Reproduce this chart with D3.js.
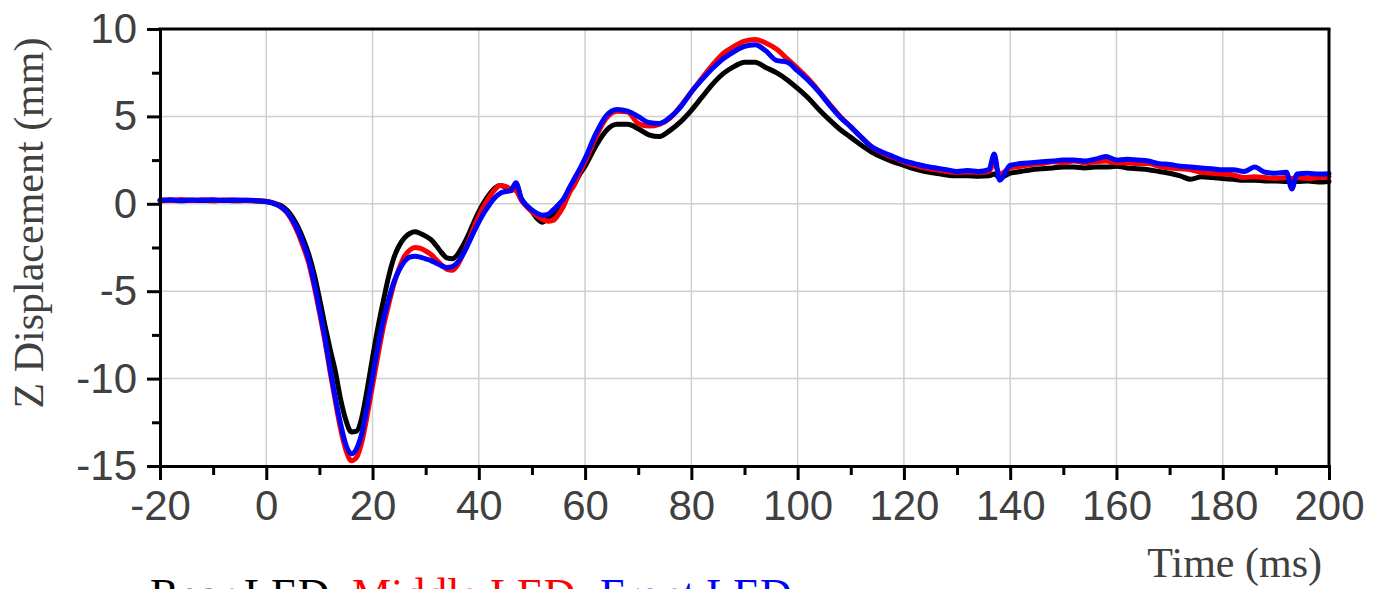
<!DOCTYPE html>
<html>
<head>
<meta charset="utf-8">
<script src="https://cdn.jsdelivr.net/npm/d3@7"></script>
<style>
  html, body { margin: 0; padding: 0; background: #fff; }
  svg { display: block; }
</style>
</head>
<body>
<svg id="chart" width="1388" height="589"></svg>
<script>
// ---- Data ----
const timeMs = [
  -20,-18,-16,-14,-12,-10,-8,-6,-4,-2,0,
  1,2,3,4,5,6,7,8,9,10,11,12,13,14,15,16,17,18,19,20,
  21,22,23,24,25,26,27,28,29,30,31,32,33,34,35,36,37,38,39,40,
  41,42,43,44,45,46,47,48,49,50,51,52,53,54,55,56,57,58,59,60,
  62,64,66,68,70,72,74,76,78,80,
  82,84,86,88,90,92,94,96,98,100,
  102,104,106,108,110,112,114,116,118,120,
  122,124,126,128,130,132,134,136,
  137,138,
  140,142,144,146,148,150,152,154,156,158,
  160,162,164,166,168,170,172,174,176,178,
  180,182,184,186,188,190,192,
  193,
  194,196,198,200
];

const rearLED = [
  0.18,0.2,0.17,0.2,0.19,0.18,0.2,0.17,0.19,0.16,0.12,
  0.07,-0.02,-0.15,-0.4,-0.8,-1.35,-2.05,-2.9,-4.0,-5.4,-6.9,-8.3,-9.6,-11.2,-12.4,-13.05,-13.0,-12.2,-10.6,-8.8,
  -7.1,-5.6,-4.2,-3.1,-2.4,-1.95,-1.7,-1.6,-1.7,-1.85,-2.05,-2.4,-2.8,-3.1,-3.15,-2.9,-2.4,-1.8,-1.1,-0.45,
  0.1,0.55,0.9,1.05,0.95,0.75,1.1,0.3,-0.1,-0.45,-0.85,-1.05,-0.8,-0.6,-0.2,0.3,0.75,1.15,1.7,2.15,
  3.3,4.2,4.55,4.55,4.3,3.95,3.85,4.2,4.7,5.35,
  6.1,6.85,7.45,7.85,8.1,8.1,7.8,7.5,7.1,6.6,
  6.05,5.4,4.8,4.25,3.8,3.35,2.95,2.65,2.4,2.2,
  2.0,1.85,1.75,1.65,1.6,1.6,1.58,1.6,
  1.7,1.5,
  1.75,1.85,1.95,2.0,2.05,2.1,2.1,2.05,2.1,2.1,
  2.15,2.05,2.0,1.95,1.85,1.75,1.6,1.4,1.55,1.5,
  1.45,1.4,1.35,1.35,1.3,1.3,1.28,
  1.3,
  1.27,1.3,1.25,1.28
];

const middleLED = [
  0.22,0.2,0.24,0.19,0.23,0.2,0.22,0.21,0.2,0.18,0.14,
  0.08,-0.04,-0.24,-0.55,-1.05,-1.7,-2.5,-3.4,-4.7,-6.2,-7.8,-9.6,-11.3,-12.9,-14.1,-14.7,-14.5,-13.6,-12.1,-10.4,
  -8.7,-7.1,-5.8,-4.6,-3.7,-3.0,-2.65,-2.5,-2.55,-2.7,-2.9,-3.2,-3.5,-3.75,-3.8,-3.5,-2.9,-2.2,-1.4,-0.7,
  -0.1,0.4,0.8,1.05,1.0,0.85,0.75,0.2,-0.15,-0.45,-0.7,-0.9,-1.0,-0.95,-0.6,-0.1,0.6,1.1,1.8,2.4,
  3.8,4.9,5.3,5.25,4.6,4.45,4.55,4.9,5.6,6.4,
  7.2,7.95,8.6,9.0,9.3,9.4,9.2,8.85,8.3,7.75,
  7.15,6.45,5.7,5.0,4.4,3.8,3.25,2.9,2.65,2.4,
  2.2,2.05,1.95,1.85,1.8,1.82,1.8,1.85,
  2.35,1.7,
  2.05,2.15,2.25,2.3,2.4,2.35,2.45,2.35,2.4,2.45,
  2.35,2.35,2.3,2.3,2.15,2.05,2.0,1.95,1.8,1.75,
  1.7,1.65,1.5,1.55,1.5,1.45,1.5,
  1.45,
  1.5,1.45,1.5,1.55
];

const frontLED = [
  0.2,0.23,0.19,0.22,0.2,0.23,0.19,0.22,0.2,0.19,0.13,
  0.06,-0.05,-0.22,-0.5,-0.95,-1.55,-2.3,-3.2,-4.5,-6.0,-7.6,-9.4,-11.1,-12.6,-13.8,-14.3,-14.0,-13.1,-11.6,-9.9,
  -8.2,-6.7,-5.5,-4.5,-3.8,-3.3,-3.05,-3.0,-3.05,-3.15,-3.25,-3.4,-3.55,-3.65,-3.6,-3.35,-2.9,-2.3,-1.65,-1.05,
  -0.5,-0.05,0.35,0.6,0.7,0.75,1.2,0.3,-0.1,-0.35,-0.55,-0.65,-0.6,-0.35,-0.05,0.3,0.9,1.45,2.0,2.6,
  4.0,5.05,5.4,5.3,5.0,4.65,4.6,4.95,5.55,6.4,
  7.1,7.75,8.3,8.7,9.0,9.1,8.75,8.2,8.1,7.6,
  7.05,6.4,5.65,4.95,4.4,3.8,3.25,2.95,2.7,2.45,
  2.3,2.15,2.05,1.95,1.85,1.9,1.85,1.95,
  2.85,1.35,
  2.2,2.3,2.35,2.4,2.45,2.5,2.5,2.45,2.55,2.7,
  2.5,2.55,2.5,2.45,2.3,2.25,2.15,2.1,2.05,2.0,
  1.95,1.95,1.85,2.1,1.8,1.75,1.8,
  0.85,
  1.7,1.75,1.7,1.72
];

const xTicks = [-20,0,20,40,60,80,100,120,140,160,180,200];
const xMinorTicks = [-10,10,30,50,70,90,110,130,150,170,190];
const yTicks = [-15,-10,-5,0,5,10];
const yMinorTicks = [-12.5,-7.5,-2.5,2.5,7.5];

const seriesNames = ["Rear LED", "Middle LED", "Front LED"];
const seriesColors = ["#000000", "#ff0000", "#0000ff"];
const seriesValues = [rearLED, middleLED, frontLED];

// ---- Layout ----
const svg = d3.select("#chart");
const pLeft = 160, pRight = 1329, pTop = 29, pBottom = 466;

const x = d3.scaleLinear().domain([-20, 200]).range([pLeft, pRight]);
const y = d3.scaleLinear().domain([-15, 10]).range([pBottom, pTop]);

const tickFont = "'Liberation Sans', Arial, sans-serif";
const titleFont = "'Liberation Serif', 'Times New Roman', serif";
const textColor = "#404040";

// Grid
const grid = svg.append("g");
grid.selectAll("line.vx").data(xTicks.filter(d => d > -20 && d < 200)).join("line")
  .attr("x1", d => x(d)).attr("x2", d => x(d))
  .attr("y1", pTop).attr("y2", pBottom)
  .attr("stroke", "#cfcfcf").attr("stroke-width", 1.5);
grid.selectAll("line.hy").data(yTicks.filter(d => d > -15 && d < 10)).join("line")
  .attr("x1", pLeft).attr("x2", pRight)
  .attr("y1", d => y(d)).attr("y2", d => y(d))
  .attr("stroke", "#cfcfcf").attr("stroke-width", 1.5);

// Lines
const line = d3.line()
  .x((d, i) => x(timeMs[i]))
  .y(d => y(d))
  .curve(d3.curveMonotoneX);

svg.append("g").selectAll("path").data(seriesValues).join("path")
  .attr("d", d => line(d))
  .attr("fill", "none")
  .attr("stroke", (d, i) => seriesColors[i])
  .attr("stroke-width", 5)
  .attr("stroke-linejoin", "round")
  .attr("stroke-linecap", "round");

// Axes
function styleAxis(g, showText) {
  g.select(".domain").attr("stroke", "#000").attr("stroke-width", 3);
  g.selectAll(".tick line").attr("stroke", "#000").attr("stroke-width", 3);
  g.selectAll(".tick text")
    .attr("fill", textColor)
    .style("font-family", tickFont)
    .style("font-size", "42px");
  if (!showText) g.selectAll(".tick text").remove();
}

const xMinor = svg.append("g").attr("transform", `translate(0,${pBottom})`)
  .call(d3.axisBottom(x).tickValues(xMinorTicks).tickSize(9).tickFormat(""));
styleAxis(xMinor, false);
const yMinor = svg.append("g").attr("transform", `translate(${pLeft},0)`)
  .call(d3.axisLeft(y).tickValues(yMinorTicks).tickSize(8).tickFormat(""));
styleAxis(yMinor, false);

const xAxis = svg.append("g").attr("transform", `translate(0,${pBottom})`)
  .call(d3.axisBottom(x).tickValues(xTicks).tickSize(14).tickPadding(10).tickFormat(d => String(d)));
styleAxis(xAxis, true);

const yAxis = svg.append("g").attr("transform", `translate(${pLeft},0)`)
  .call(d3.axisLeft(y).tickValues(yTicks).tickSize(13).tickPadding(10).tickFormat(d => String(d)));
styleAxis(yAxis, true);

// Top and right border
svg.append("line").attr("x1", pLeft - 1.5).attr("x2", pRight + 1.5).attr("y1", pTop).attr("y2", pTop)
  .attr("stroke", "#000").attr("stroke-width", 3);
svg.append("line").attr("x1", pRight).attr("x2", pRight).attr("y1", pTop).attr("y2", pBottom)
  .attr("stroke", "#000").attr("stroke-width", 3);

// Axis titles
svg.append("text")
  .attr("x", 1322).attr("y", 577)
  .attr("text-anchor", "end")
  .attr("fill", textColor)
  .style("font-family", titleFont).style("font-size", "42px")
  .text("Time (ms)");

svg.append("text")
  .attr("transform", "translate(43,223) rotate(-90)")
  .attr("text-anchor", "middle")
  .attr("fill", textColor)
  .style("font-family", titleFont).style("font-size", "42px")
  .text("Z Displacement (mm)");

// Legend (partially cut off at the bottom edge, exactly as in the reference)
const legendX = [150, 352, 600];
svg.append("g").selectAll("text").data(seriesNames).join("text")
  .attr("x", (d, i) => legendX[i]).attr("y", 609)
  .attr("fill", (d, i) => seriesColors[i])
  .style("font-family", titleFont).style("font-size", "44px")
  .text(d => d);
</script>
</body>
</html>
